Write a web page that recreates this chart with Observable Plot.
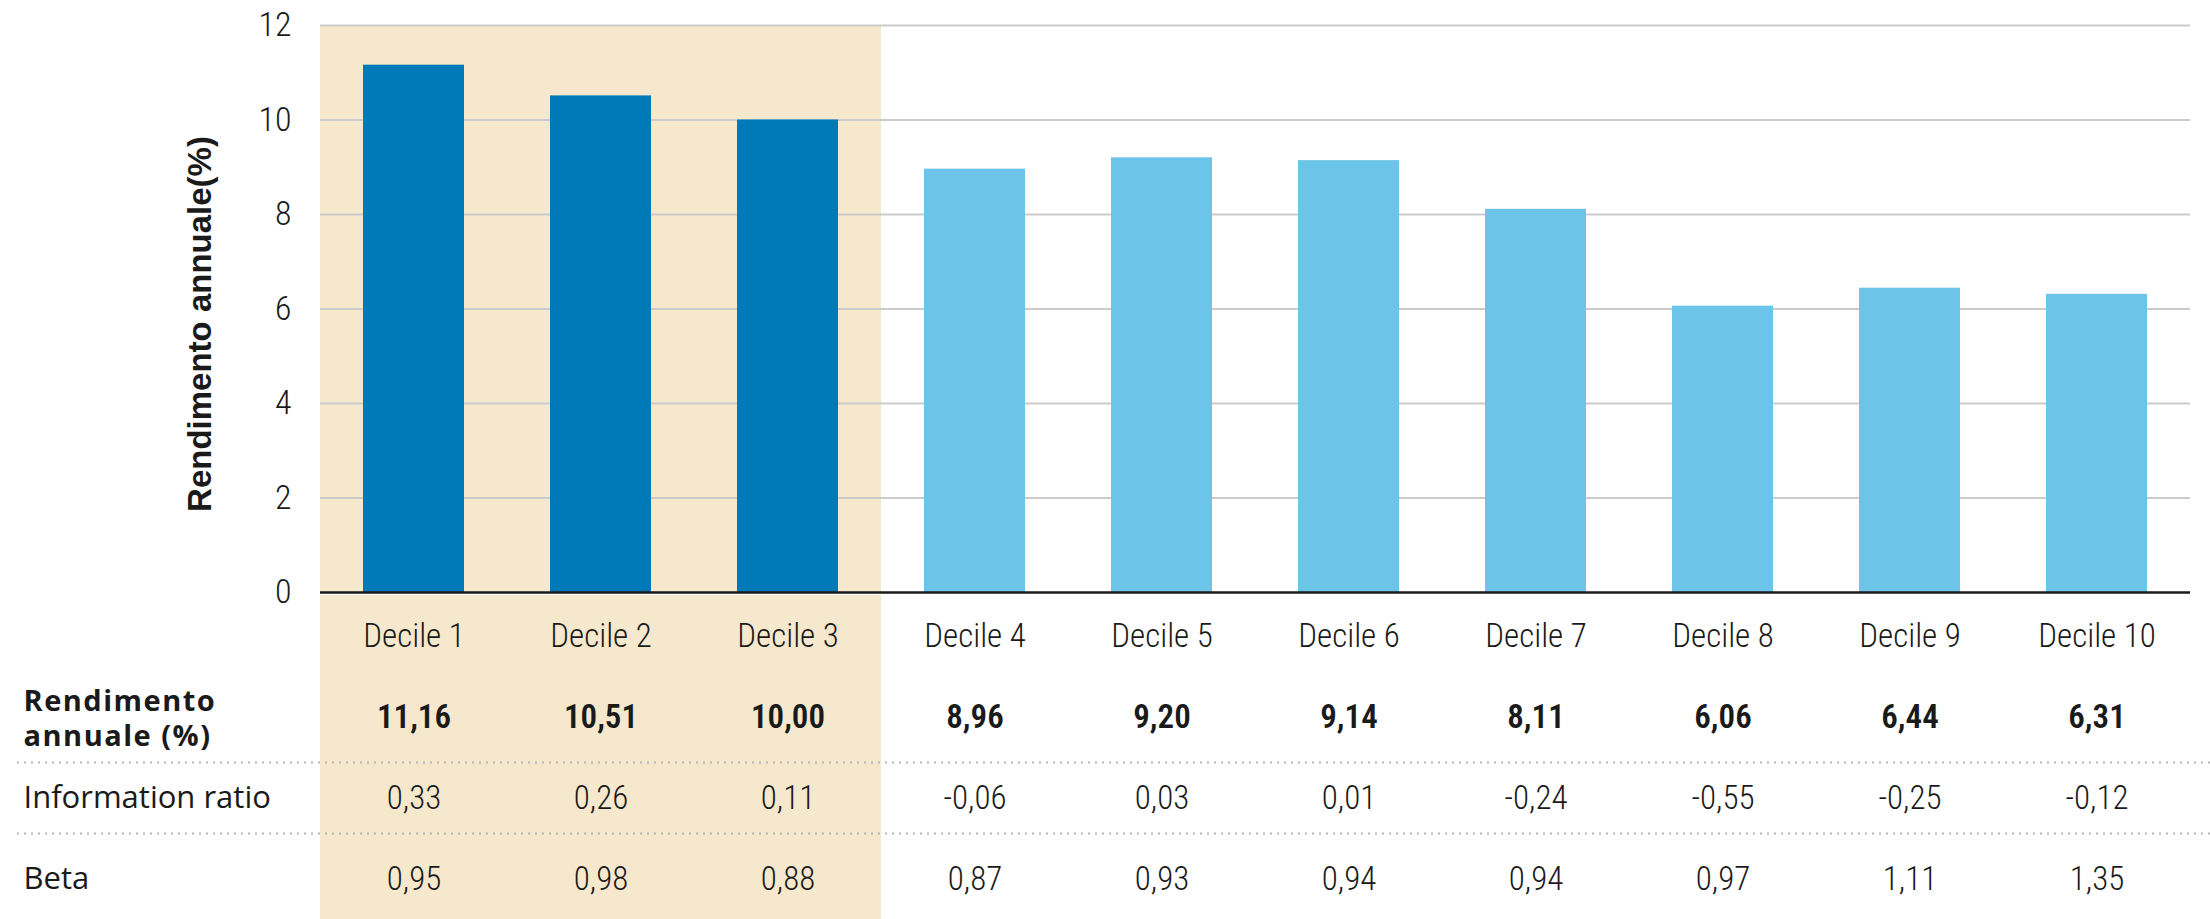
<!DOCTYPE html>
<html>
<head>
<meta charset="utf-8">
<script src="https://cdn.jsdelivr.net/npm/d3@7"></script>
<script src="https://cdn.jsdelivr.net/npm/@observablehq/plot@0.6"></script>
<style>
  html, body { margin: 0; padding: 0; background: #fff; }
  #chart svg { display: block; }
  text[aria-label="cond"] { font-stretch: condensed; }
  text[aria-label="row-title"] { letter-spacing: 1.5px; }
</style>
</head>
<body>
<div id="chart"></div>
<script>
// ---- data ----
const deciles = ["Decile 1", "Decile 2", "Decile 3", "Decile 4", "Decile 5",
                 "Decile 6", "Decile 7", "Decile 8", "Decile 9", "Decile 10"];
const rendimento = [11.16, 10.51, 10.00, 8.96, 9.20, 9.14, 8.11, 6.06, 6.44, 6.31];
const informationRatio = [0.33, 0.26, 0.11, -0.06, 0.03, 0.01, -0.24, -0.55, -0.25, -0.12];
const beta = [0.95, 0.98, 0.88, 0.87, 0.93, 0.94, 0.94, 0.97, 1.11, 1.35];
const highlighted = ["Decile 1", "Decile 2", "Decile 3"];
const yTicks = [0, 2, 4, 6, 8, 10, 12];
const yLabel = "Rendimento annuale(%)";
const rowKeys = ["header", "rendimento", "ir", "beta"];
const rowLabels = ["", "Rendimento\nannuale (%)", "Information ratio", "Beta"];

// ---- style ----
const DARK = "#0079b8", LIGHT = "#6cc4e8", BEIGE = "#f6e8cc";
const GRID = "#cbcbcb", INK = "#1a1a1a", DOT = "#b5b5b5";
const COND = "'Roboto Condensed', 'Noto Sans', 'DejaVu Sans Condensed', sans-serif";
const SANS = "'Open Sans', 'Liberation Sans', sans-serif";
const W = 2210, H = 919, ML = 320, MR = 20, TOP_H = 594;
const tag = name => () => name;   // per-element aria-label used as a CSS hook

const fmt = v => v.toFixed(2).replace(".", ",");
const bars = deciles.map((d, i) => ({decile: d, value: rendimento[i], hi: highlighted.includes(d)}));

const topChart = Plot.plot({
  width: W, height: TOP_H,
  marginLeft: ML, marginRight: MR, marginTop: 25, marginBottom: 2,
  x: {domain: deciles, padding: 0, axis: null},
  y: {domain: [0, 12], axis: null},
  style: {background: "transparent", color: INK, overflow: "visible"},
  marks: [
    Plot.barY(highlighted, {x: d => d, y1: 0, y2: 12, fill: BEIGE}),
    Plot.gridY(yTicks.filter(t => t > 0), {stroke: GRID, strokeOpacity: 1, strokeWidth: 2}),
    Plot.axisY(yTicks, {tickSize: 0, tickPadding: 29, fontSize: 34, fontWeight: 300, fontFamily: COND, fill: INK, label: null, ariaLabel: tag("cond")}),
    Plot.barY(bars.filter(d => d.hi), {x: "decile", y: "value", fill: DARK, insetLeft: 43, insetRight: 43}),
    Plot.barY(bars.filter(d => !d.hi), {x: "decile", y: "value", fill: LIGHT, insetLeft: 43, insetRight: 43}),
    Plot.ruleY([0], {stroke: INK, strokeWidth: 2.5}),
    Plot.text([yLabel], {frameAnchor: "left", textAnchor: "middle", rotate: -90, dx: -120, dy: 15,
      fontSize: 33, fontWeight: "bold", fontFamily: "'Liberation Sans', Arial, sans-serif", fill: INK})
  ]
});

// ---- table ----
const TABLE_H = H - TOP_H;
const cells = [];
deciles.forEach((d, i) => {
  cells.push({decile: d, row: "header", text: d, bold: false});
  cells.push({decile: d, row: "rendimento", text: fmt(rendimento[i]), bold: true});
  cells.push({decile: d, row: "ir", text: fmt(informationRatio[i]), bold: false});
  cells.push({decile: d, row: "beta", text: fmt(beta[i]), bold: false});
});
const beigeCells = highlighted.flatMap(d => rowKeys.map(r => ({decile: d, row: r})));
const labels = rowKeys.map((k, i) => ({row: k, label: rowLabels[i]}));
const rowStep = TABLE_H / rowKeys.length;

const table = Plot.plot({
  width: W, height: TABLE_H,
  marginLeft: 17, marginRight: 0, marginTop: 0, marginBottom: 0,
  x: {domain: deciles, range: [ML, W - MR], padding: 0, axis: null},
  y: {domain: rowKeys, padding: 0, axis: null},
  style: {background: "transparent", color: INK},
  marks: [
    Plot.cell(beigeCells, {x: "decile", y: "row", fill: BEIGE}),
    Plot.ruleY(["ir"], {y: d => d, dy: -rowStep / 2 + 5, stroke: DOT, strokeWidth: 2, strokeDasharray: "2 5"}),
    Plot.ruleY(["beta"], {y: d => d, dy: -rowStep / 2 - 5, stroke: DOT, strokeWidth: 2, strokeDasharray: "2 5"}),
    Plot.text(cells.filter(c => !c.bold), {x: "decile", y: "row", text: "text", fontSize: 33, fontWeight: 300, fontFamily: COND, fill: INK, ariaLabel: tag("cond")}),
    Plot.text(cells.filter(c => c.bold), {x: "decile", y: "row", text: "text", fontSize: 33, fontWeight: 600, fontFamily: COND, fill: INK, ariaLabel: tag("cond")}),
    Plot.text(labels.filter(l => l.row === "rendimento"), {y: "row", text: "label", frameAnchor: "left", textAnchor: "start", dx: 6,
      fontSize: 29, fontWeight: "bold", fontFamily: SANS, lineHeight: 1.2, fill: INK, ariaLabel: tag("row-title")}),
    Plot.text(labels.filter(l => l.row === "ir" || l.row === "beta"), {y: "row", text: "label", frameAnchor: "left", textAnchor: "start", dx: 6,
      fontSize: 31, fontFamily: SANS, fill: INK})
  ]
});

const el = document.getElementById("chart");
el.appendChild(topChart);
el.appendChild(table);
</script>
</body>
</html>
